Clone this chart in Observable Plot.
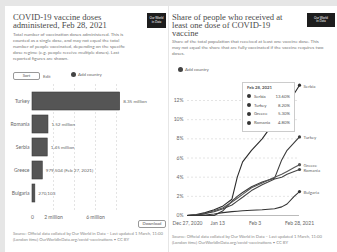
<!DOCTYPE html>
<html><head><meta charset="utf-8">
<script src="https://cdn.jsdelivr.net/npm/d3@7"></script>
<script src="https://cdn.jsdelivr.net/npm/@observablehq/plot@0.6"></script>
<style>
body{margin:0;width:337px;height:252px;overflow:hidden;background:#e6e6e6;font-family:Lato,"Noto Sans",sans-serif;position:relative}
.abs{position:absolute}
.card{position:absolute;background:#fff}
.title{font-family:"Liberation Serif","DejaVu Serif",serif;font-size:8.6px;line-height:8px;color:#4a4a4a}
.sub{font-size:4.6px;line-height:5.9px;color:#777}
.logo{background:#1d1d1d;color:#fff;font-size:3px;line-height:3.4px;text-align:center;display:flex;flex-direction:column;justify-content:center}
.src{font-size:4.2px;line-height:5.6px;color:#888}
.ctl{font-size:4.4px;color:#666;display:flex;align-items:center;gap:2px}
.btn{border:0.8px solid #999;border-radius:2px;padding:0 2px;font-size:4.2px;color:#555;line-height:6px}
.dotI{width:5px;height:5px;border-radius:50%;background:#444;display:inline-block}
.tip{background:#fff;border:0.8px solid #ccc;font-size:4.3px;color:#555;box-sizing:border-box;padding:2px 4px}
.tip .row{display:flex;align-items:center;height:8.8px}
.tip .row span.n{flex:1;margin-left:3px}
.tip .mk{width:4px;height:4px;border-radius:50%;background:#333}
</style></head>
<body>
<script>
// ---- data: left bar chart ----
const barCountries = ["Turkey","Romania","Serbia","Greece","Bulgaria"];
const barDoses = [8.35e6, 1.52e6, 1.45e6, 0.979e6, 0.27e6];
const barLabels = ["8.35 million","1.52 million","1.45 million","979,504 (Feb 27, 2021)","270,103"];
const barGridTicks = [0, 2e6, 4e6, 6e6, 8e6];
const barAxisTicks = [0, 2e6, 6e6];
const barAxisLabels = ["0","2 million","6 million"];

// ---- data: right line chart ----
const lineDates = ["2020-12-27","2021-01-01","2021-01-06","2021-01-11","2021-01-16","2021-01-21","2021-01-24","2021-01-27","2021-02-01","2021-02-07","2021-02-14","2021-02-18","2021-02-21","2021-02-25","2021-02-28"];
const lineCountries = ["Serbia","Turkey","Greece","Romania","Bulgaria"];
const serbia   = [0.02,0.1,0.3,0.6,1.0,1.7,4.0,5.6,6.8,8.0,9.8,10.9,11.7,12.7,13.6];
const turkey   = [0,0,0,0,0.5,1.5,2.0,2.4,3.0,3.5,3.9,5.8,6.8,7.6,8.2];
const greece   = [0,0.05,0.2,0.5,0.8,1.4,1.8,2.2,2.9,3.4,4.0,4.3,4.6,5.0,5.3];
const romania  = [0,0.05,0.2,0.4,0.7,1.1,1.5,1.9,2.6,3.2,3.8,4.0,4.3,4.6,4.8];
const bulgaria = [0,0.02,0.05,0.15,0.3,0.4,0.45,0.5,0.55,0.6,0.7,0.9,1.2,2.0,2.5];
const lineColors = ["#2b2b2b","#3a3a3a","#555555","#444444","#333333"];
const yTicks = [0,2,4,6,8,10,12];
const xTickDates = ["2020-12-27","2021-01-13","2021-02-03","2021-02-28"];
const xTickLabels = ["Dec 27, 2020","Jan 13","Feb 3","Feb 28, 2021"];
const tipDate = "Feb 28, 2021";
</script>

<div class="card" style="left:5px;top:6px;width:163px;height:246px"></div>
<div class="card" style="left:169px;top:6px;width:168px;height:246px"></div>

<div class="abs title" style="left:13px;top:13px;width:104px">COVID-19 vaccine doses administered, Feb 28, 2021</div>
<div class="abs sub" style="left:13px;top:32px;width:114px">Total number of vaccination doses administered. This is counted as a single dose, and may not equal the total number of people vaccinated, depending on the specific dose regime (e.g. people receive multiple doses). Last reported figures are shown.</div>
<div class="abs logo" style="left:147px;top:13px;width:19px;height:15px"><div>Our World</div><div>in Data</div></div>
<div class="abs ctl" style="left:13px;top:72px"><span class="btn" style="width:21px;text-align:center">Sort</span><span style="margin-left:1px">Edit</span></div>
<div class="abs ctl" style="left:71px;top:72px"><span class="dotI"></span><span>Add country</span></div>
<div id="left" class="abs" style="left:0;top:84px"></div>
<div class="abs btn" style="left:138px;top:220px;width:22px;text-align:center">Download</div>
<div class="abs src" style="left:13px;top:231px;width:153px">Source: Official data collated by Our World in Data – Last updated 1 March, 11:00 (London time) OurWorldInData.org/covid-vaccinations • CC BY</div>

<div class="abs title" style="left:172px;top:13px;width:122px">Share of people who received at least one dose of COVID-19 vaccine</div>
<div class="abs sub" style="left:172px;top:39px;width:152px">Share of the total population that received at least one vaccine dose. This may not equal the share that are fully vaccinated if the vaccine requires two doses.</div>
<div class="abs logo" style="left:307px;top:13px;width:28px;height:14px"><div>Our World</div><div>in Data</div></div>
<div class="abs ctl" style="left:178px;top:67px"><span class="dotI"></span><span>Add country</span></div>
<div id="right" class="abs" style="left:165px;top:76px"></div>
<div id="tip" class="abs tip" style="left:242px;top:82px;width:53px;height:50px"></div>
<div class="abs src" style="left:172px;top:234px;width:162px">Source: Official data collated by Our World in Data – Last updated 1 March, 11:00 (London time) OurWorldInData.org/covid-vaccinations • CC BY</div>

<script>
const barData = barCountries.map((c,i)=>({country:c, doses:barDoses[i], label:barLabels[i]}));
const left = Plot.plot({
  width:168, height:140, marginLeft:32, marginRight:0, marginTop:0, marginBottom:14,
  style:{fontSize:"5px", fontFamily:"Lato, sans-serif", color:"#666", background:"transparent", overflow:"visible"},
  x:{domain:[0,8e6], range:[32,116]},
  y:{domain:barCountries, range:[1,125], padding:0.2},
  marks:[
    Plot.ruleX(barGridTicks.slice(1), {stroke:"#ddd", strokeDasharray:"2,2", strokeWidth:0.8}),
    Plot.barX(barData, {x:"doses", y:"country", fill:"#555", stroke:"#3a3a3a", strokeWidth:0.6}),
    Plot.text(barData, {x:"doses", y:"country", text:"label", dx:3, textAnchor:"start", fill:"#666", fontSize:4.6}),
    Plot.axisY({tickSize:0, tickPadding:3, label:null}),
    Plot.axisX({ticks:barAxisTicks, tickFormat:d=>barAxisLabels[barAxisTicks.indexOf(d)], tickSize:0, tickPadding:5, label:null})
  ]
});
document.getElementById("left").appendChild(left);

const parse = s => new Date(s + "T00:00:00Z");
const series = [serbia, turkey, greece, romania, bulgaria];
const long = [];
lineCountries.forEach((c,ci)=> lineDates.forEach((d,i)=> long.push({country:c, date:parse(d), value:series[ci][i]})));
const last = lineCountries.map((c,ci)=>({country:c, date:parse(lineDates[lineDates.length-1]), value:series[ci][series[ci].length-1]}));
const xTicks = xTickDates.map(parse);
const right = Plot.plot({
  width:172, height:155, marginLeft:22, marginRight:0, marginTop:0, marginBottom:16,
  style:{fontSize:"5px", fontFamily:"Lato, sans-serif", color:"#666", background:"transparent", overflow:"visible"},
  x:{type:"utc", domain:[parse(lineDates[0]), parse(lineDates[lineDates.length-1])], range:[22,134]},
  y:{domain:[0,12], range:[139,24]},
  color:{domain:lineCountries, range:lineColors},
  marks:[
    Plot.ruleY(yTicks.slice(1), {x1:parse(lineDates[0]), x2:parse(lineDates[lineDates.length-1]), stroke:"#ddd", strokeDasharray:"2,2", strokeWidth:0.8}),
    Plot.ruleY([0], {x1:parse(lineDates[0]), x2:parse(lineDates[lineDates.length-1]), stroke:"#aaa", strokeWidth:0.8}),
    Plot.line(long, {x:"date", y:"value", z:"country", stroke:"country", strokeWidth:1.1}),
    Plot.dot(last, {x:"date", y:"value", fill:"country", r:1.6}),
    Plot.text(last, {x:"date", y:"value", text:"country", dx:4, dy:1, textAnchor:"start", fill:"#666", fontSize:4.4}),
    Plot.axisY({ticks:yTicks, tickFormat:d=>d+"%", tickSize:0, tickPadding:4, label:null}),
    Plot.axisX({ticks:xTicks, tickFormat:d=>xTickLabels[xTicks.findIndex(t=>+t===+d)], tickSize:0, tickPadding:6, label:null})
  ]
});
document.getElementById("right").appendChild(right);

// tooltip built from the series' last values
const tip = document.getElementById("tip");
const rows = last.slice().sort((a,b)=>b.value-a.value).slice(0,4);
let html = `<div style="font-weight:bold;height:7px">${tipDate}</div>`;
rows.forEach(r=>{ html += `<div class="row"><span class="mk"></span><span class="n">${r.country}</span><span>${r.value.toFixed(2)}%</span></div>`; });
tip.innerHTML = html;
</script>
</body></html>
